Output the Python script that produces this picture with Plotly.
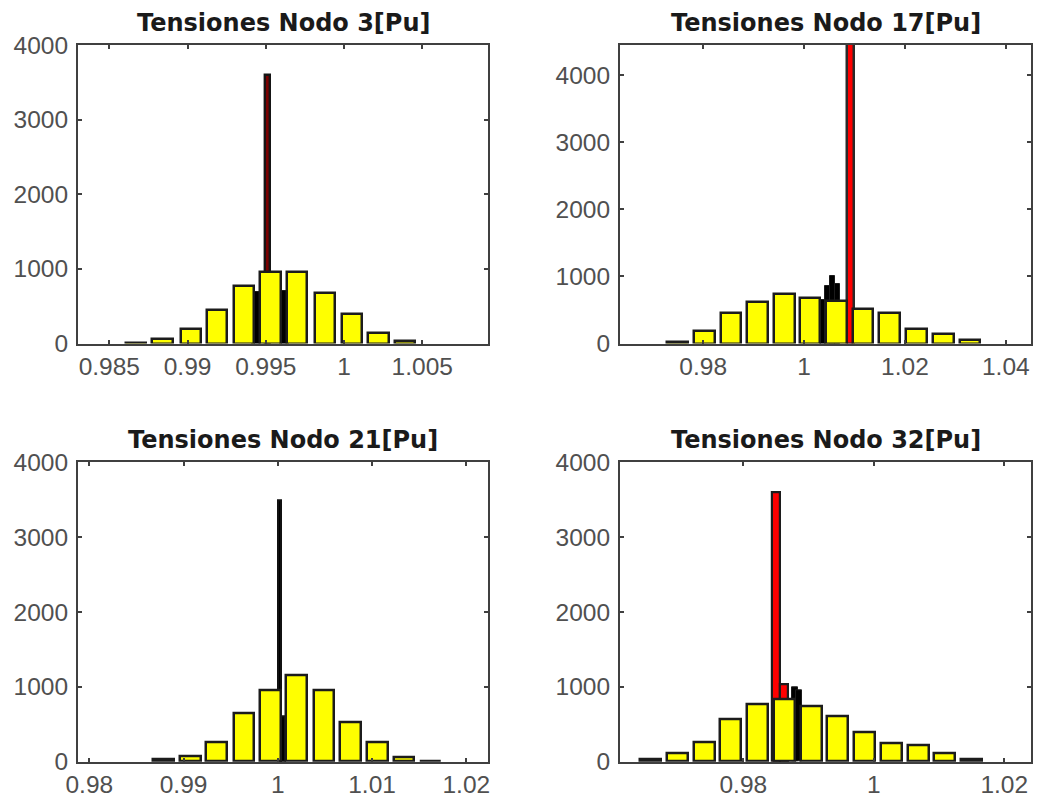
import plotly.graph_objects as go

# ---------------- data ----------------
titles = ["Tensiones Nodo 3[Pu]", "Tensiones Nodo 17[Pu]",
          "Tensiones Nodo 21[Pu]", "Tensiones Nodo 32[Pu]"]

# Node 3
n3_centers = [0.9867, 0.9884, 0.9902, 0.9919, 0.9936, 0.9953, 0.9970, 0.9988, 1.0005, 1.0022, 1.0039]
n3_counts = [10, 65, 190, 453, 777, 955, 960, 675, 400, 147, 35]
n3_black_x = [0.9944, 0.9962]
n3_black_y = [690, 700]
n3_red_x = [0.99513]
n3_red_y = [3600]
n3_xticks = [0.985, 0.99, 0.995, 1.0, 1.005]
n3_xticktext = ["0.985", "0.99", "0.995", "1", "1.005"]
n3_xrange = [0.9830, 1.0092]
n3_yrange = [0, 4000]

# Node 17
n17_centers = [0.9749, 0.9802, 0.9855, 0.9908, 0.9961, 1.0012, 1.0064, 1.0117, 1.0170, 1.0223, 1.0276, 1.0329]
n17_counts = [25, 190, 448, 623, 732, 683, 638, 508, 448, 214, 140, 50]
n17_black_x = [1.0036, 1.0046, 1.0056, 1.0066]
n17_black_y = [650, 860, 1010, 880]
n17_red_x = [1.00925]
n17_red_y = [6000]
n17_xticks = [0.98, 1.0, 1.02, 1.04]
n17_xticktext = ["0.98", "1", "1.02", "1.04"]
n17_xrange = [0.9635, 1.0450]
n17_yrange = [0, 4450]

# Node 21
n21_centers = [0.9879, 0.9907, 0.9935, 0.9964, 0.9992, 1.0020, 1.0049, 1.0077, 1.0106, 1.0134, 1.0162]
n21_counts = [31, 67, 258, 646, 949, 1158, 958, 521, 258, 53, 10]
n21_black_x = [1.00016, 1.00055]
n21_black_y = [3496, 600]
n21_xticks = [0.98, 0.99, 1.0, 1.01, 1.02]
n21_xticktext = ["0.98", "0.99", "1", "1.01", "1.02"]
n21_xrange = [0.9788, 1.0223]
n21_yrange = [0, 4000]

# Node 32
n32_centers = [0.9658, 0.9699, 0.9740, 0.9781, 0.9822, 0.9863, 0.9904, 0.9945, 0.9986, 1.0027, 1.0068, 1.0109, 1.0150]
n32_counts = [31, 111, 258, 566, 771, 833, 744, 601, 388, 245, 214, 111, 31]
n32_black_x = [0.9879, 0.9885]
n32_black_y = [1000, 950]
n32_red_x = [0.98505, 0.98628]
n32_red_y = [3594, 1030]
n32_xticks = [0.98, 1.0, 1.02]
n32_xticktext = ["0.98", "1", "1.02"]
n32_xrange = [0.9611, 1.0241]
n32_yrange = [0, 4000]

yticks = [0, 1000, 2000, 3000, 4000]
yticktext = ["0", "1000", "2000", "3000", "4000"]

# ---------------- figure ----------------
W, H = 1037, 799
OUT = "#1c1c1c"
YEL = "#ffff00"

fig = go.Figure()

# pixel boxes (left, top, right, bottom)
boxes = [(78, 45, 488, 343.5), (620, 45, 1031, 343.5),
         (78, 462.3, 488, 761.7), (620, 462.3, 1031, 761.7)]


def add_bars(i, x, y, color, width, lw=2.5, line=OUT):
    sfx = "" if i == 1 else str(i)
    fig.add_trace(go.Bar(x=x, y=y, width=width, marker=dict(color=color, line=dict(color=line, width=lw)),
                         opacity=1, xaxis="x" + sfx, yaxis="y" + sfx, showlegend=False, hoverinfo="x+y"))


# subplot 1
add_bars(1, n3_black_x, n3_black_y, "#000000", 0.0006, 1)
add_bars(1, n3_red_x, n3_red_y, "#7a0000", 0.0003, 2.4, "#151515")
add_bars(1, n3_centers, n3_counts, YEL, 0.0013)
# subplot 2
add_bars(2, n17_black_x, n17_black_y, "#000000", 0.0010, 1)
add_bars(2, n17_red_x, n17_red_y, "#ff0000", 0.0013, 2.5, "#2a2a2a")
add_bars(2, n17_centers, n17_counts, YEL, 0.0041)
# subplot 3
add_bars(3, n21_black_x, n21_black_y, "#000000", 0.00035, 2, "#111111")
add_bars(3, n21_centers, n21_counts, YEL, 0.0022)
# subplot 4
add_bars(4, n32_black_x, n32_black_y, "#000000", 0.0009, 1)
add_bars(4, n32_red_x, n32_red_y, "#ff0000", 0.0012, 2.2, OUT)
add_bars(4, n32_centers, n32_counts, YEL, 0.0032)

xr = [n3_xrange, n17_xrange, n21_xrange, n32_xrange]
yr = [n3_yrange, n17_yrange, n21_yrange, n32_yrange]
xt = [(n3_xticks, n3_xticktext), (n17_xticks, n17_xticktext),
      (n21_xticks, n21_xticktext), (n32_xticks, n32_xticktext)]

tickfont = dict(family="Liberation Sans, Arial, sans-serif", size=24.5, color="#505050")
layout = {}
annotations = []
for k, (l, t, r, b) in enumerate(boxes):
    i = k + 1
    sfx = "" if i == 1 else str(i)
    layout["xaxis" + sfx] = dict(
        domain=[l / W, r / W], range=xr[k], anchor="y" + sfx, automargin=False,
        tickvals=xt[k][0], ticktext=xt[k][1], ticks="inside", ticklen=4, tickwidth=2, tickcolor="#404040",
        showline=True, linecolor="#404040", linewidth=2, mirror="ticks",
        showgrid=False, zeroline=False, tickfont=tickfont, fixedrange=True)
    layout["yaxis" + sfx] = dict(
        domain=[1 - b / H, 1 - t / H], range=yr[k], anchor="x" + sfx, automargin=False,
        tickvals=yticks, ticktext=yticktext, ticks="inside", ticklen=4, tickwidth=2, tickcolor="#404040",
        showline=True, linecolor="#404040", linewidth=2, mirror="ticks", ticklabelstandoff=3,
        showgrid=False, zeroline=False, tickfont=tickfont, fixedrange=True)
    annotations.append(dict(
        text="<b>" + titles[k] + "</b>", xref="paper", yref="paper",
        x=(l + r) / 2 / W, y=1 - (t - 22) / H, xanchor="center", yanchor="middle", showarrow=False,
        font=dict(family="DejaVu Sans, Verdana, sans-serif", size=24, color="#1a1a1a")))

fig.update_layout(**layout)
fig.update_layout(
    width=W, height=H, margin=dict(l=0, r=0, t=0, b=0, autoexpand=False),
    paper_bgcolor="white", plot_bgcolor="white",
    barmode="overlay", bargap=0, annotations=annotations, showlegend=False)

fig.write_html("out.html")
